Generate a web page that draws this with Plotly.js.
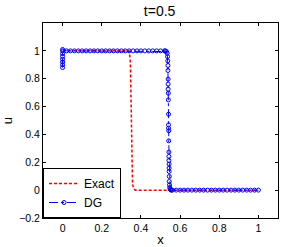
<!DOCTYPE html>
<html><head><meta charset="utf-8">
<script src="https://cdn.plot.ly/plotly-3.0.1.min.js"></script>
<style>html,body{margin:0;padding:0;background:#fff}#plot{width:307px;height:247px}</style>
</head><body><div id="plot"></div>
<script>
const exactX = [0, 0.338, 0.342, 0.346, 0.350, 0.354, 0.357, 0.362, 0.372, 1];
const exactU = [1, 1, 0.98, 0.92, 0.62, 0.22, 0.05, 0.01, 0, 0];

const dgX = [0,0,0,0,0,0,0,0,
  0.02,0.04,0.06,0.08,0.10,0.12,0.14,0.16,0.18,0.20,0.22,0.24,0.26,0.28,0.30,0.32,0.34,0.36,0.38,0.40,0.42,0.44,0.46,0.48,0.50,0.52,
  0.525,0.530,0.534,0.536,0.537,0.538,0.538,0.539,0.539,0.539,0.540,0.540,0.541,0.541,0.541,0.542,0.542,0.543,0.543,0.543,0.544,0.544,0.544,0.545,0.545,0.546,0.547,0.549,0.552,0.556,
  0.56,0.58,0.60,0.62,0.64,0.66,0.68,0.70,0.72,0.74,0.76,0.78,0.80,0.82,0.84,0.86,0.88,0.90,0.92,0.94,0.96,0.98,1.0];
const dgU = [0.88,0.90,0.92,0.94,0.96,0.98,1.0,1.01,
  1,1,1,1,1,1,1,1,1,1,1,1,1,1,1,1,1,1,1,1,1,1,1,1,1,1,
  1,0.995,0.983,0.959,0.928,0.895,0.859,0.797,0.761,0.725,0.696,0.648,0.545,0.469,0.445,0.426,0.354,0.273,0.242,0.213,0.187,0.158,0.134,0.098,0.062,0.038,0.019,0.008,0.002,0,
  0,0,0,0,0,0,0,0,0,0,0,0,0,0,0,0,0,0,0,0,0,0,0];

const xTicks = [0, 0.2, 0.4, 0.6, 0.8, 1];
const yTicks = [-0.2, 0, 0.2, 0.4, 0.6, 0.8, 1];

const traces = [
  {x: exactX, y: exactU, name: 'Exact', mode: 'lines', line: {color: '#ff0000', dash: '3px,2px', width: 1.5}},
  {x: dgX, y: dgU, name: 'DG', mode: 'lines+markers', line: {color: '#0000ff', dash: 'dashdot', width: 1},
   marker: {symbol: 'circle-open', size: 4, color: '#0000ff', line: {width: 1, color: '#0000ff'}}}
];

const axisCommon = {showgrid: false, zeroline: false, showline: true, linecolor: '#000', linewidth: 1,
  mirror: 'ticks', ticks: 'inside', ticklen: 3, tickcolor: '#000',
  tickfont: {family: 'Liberation Sans, Arial, sans-serif', size: 10.5, color: '#000'}};

const layout = {
  width: 307, height: 247,
  margin: {l: 43, r: 29, t: 23, b: 29},
  paper_bgcolor: '#fff', plot_bgcolor: '#fff',
  font: {family: 'Liberation Sans, Arial, sans-serif', color: '#000'},
  title: {text: 't=0.5', font: {size: 14, color: '#000'}, x: 0.52, xanchor: 'center', y: 0.955, yanchor: 'middle'},
  xaxis: Object.assign({}, axisCommon, {range: [-0.1, 1.1], tickvals: xTicks, ticktext: xTicks.map(String),
    title: {text: 'x', font: {size: 13}, standoff: 2}}),
  yaxis: Object.assign({}, axisCommon, {range: [-0.2, 1.2], tickvals: yTicks, ticktext: yTicks.map(v => v < 0 ? '\u2212' + Math.abs(v) : String(v)),
    title: {text: 'u', font: {size: 13}, standoff: 4}}),
  showlegend: true,
  legend: {x: 0, y: 0, xanchor: 'left', yanchor: 'bottom', bgcolor: '#fff', bordercolor: '#000', borderwidth: 1,
    font: {size: 12, color: '#000'}, itemwidth: 30, tracegroupgap: 0}
};

Plotly.newPlot('plot', traces, layout, {displayModeBar: false, staticPlot: true});
</script></body></html>
